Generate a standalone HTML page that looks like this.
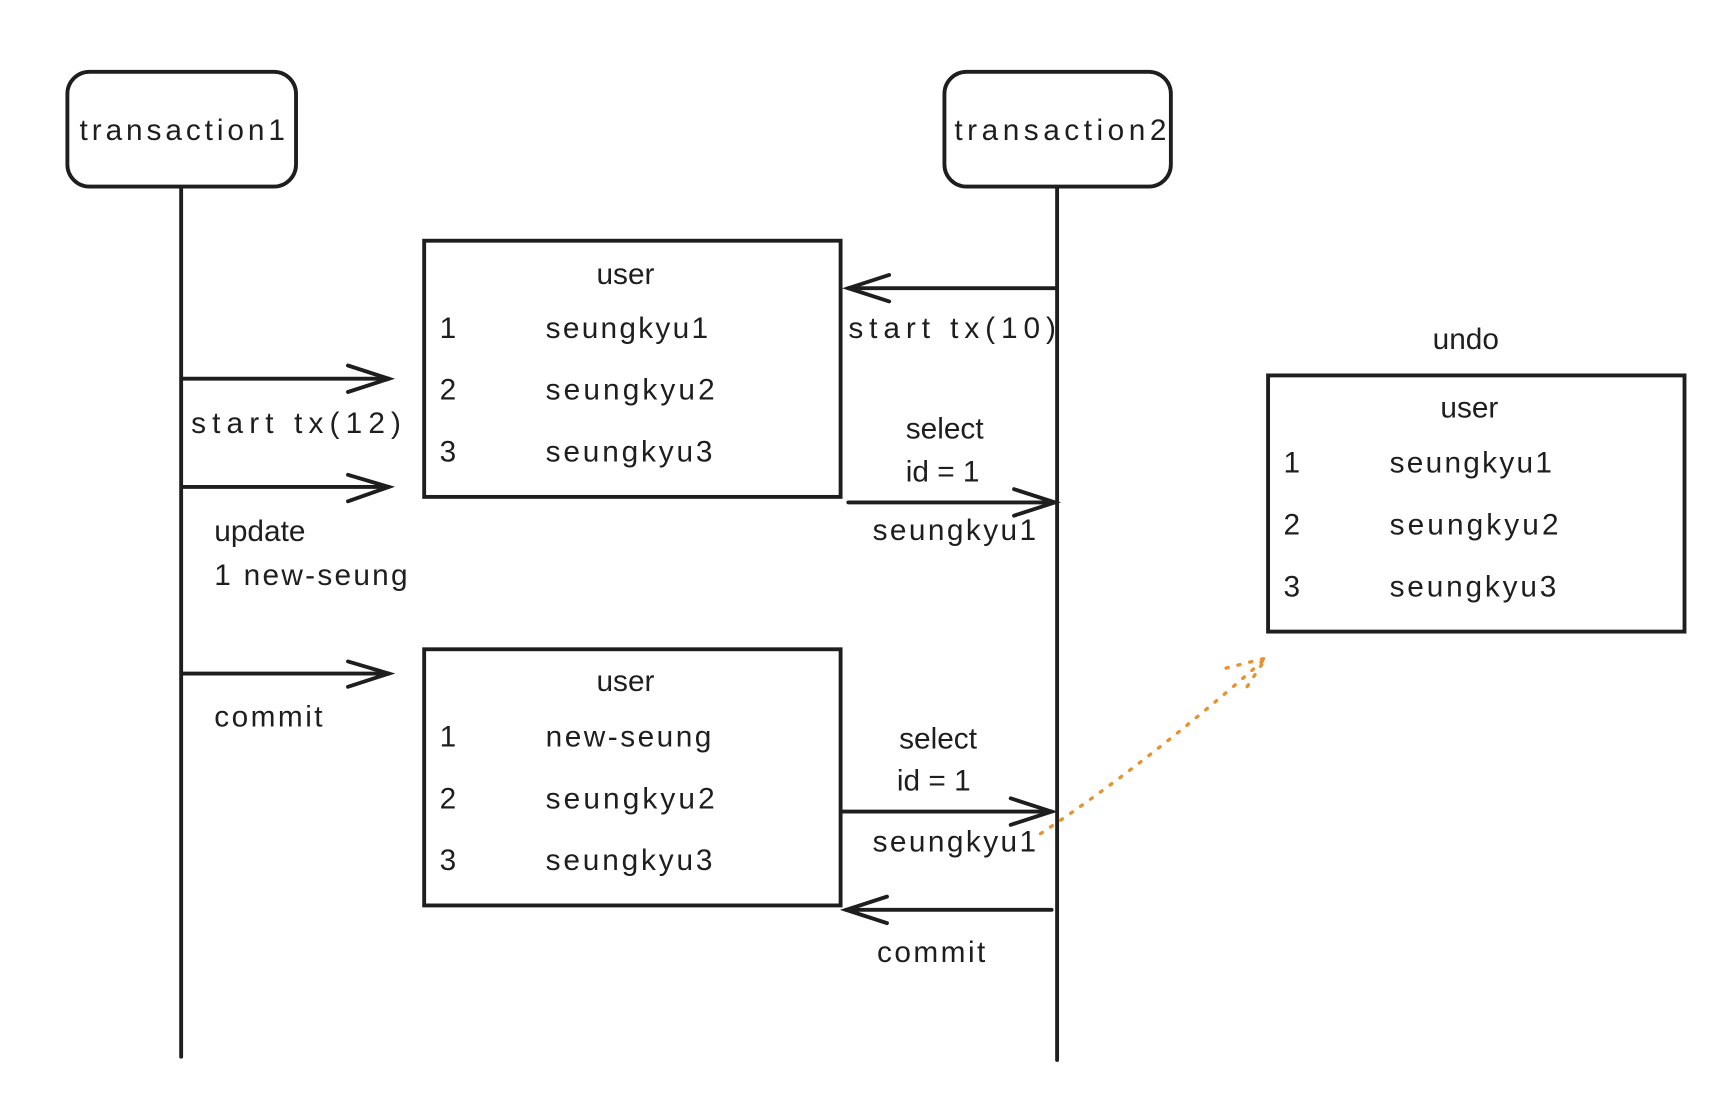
<!DOCTYPE html>
<html><head><meta charset="utf-8"><style>
html,body{margin:0;padding:0;background:#fff;}
svg{display:block;}
text{font-family:"Liberation Sans",sans-serif;font-size:27px;fill:#1e1e1e;}
</style></head><body>
<svg width="1732" height="1102" viewBox="0 0 1568 998" preserveAspectRatio="none" xmlns="http://www.w3.org/2000/svg">
<rect width="1568" height="998" fill="#fff"/>
<g fill="none" stroke="#1e1e1e" stroke-width="3.5" stroke-linecap="round">
<rect x="61" y="65" width="207" height="104" rx="20"/>
<rect x="855" y="65" width="205" height="104" rx="20"/>
<line x1="164" y1="170" x2="164" y2="957"/>
<line x1="957" y1="170" x2="957" y2="960"/>
<rect x="384" y="218" width="377" height="232"/>
<rect x="384" y="588" width="377" height="232"/>
<rect x="1148" y="340" width="377" height="232"/>
<line x1="165" y1="343" x2="352" y2="343"/><polyline points="315,331 352,343 315,355"/>
<line x1="165" y1="441" x2="352" y2="441"/><polyline points="315,430 352,441 315,454"/>
<line x1="165" y1="610" x2="352" y2="610"/><polyline points="315,599 352,610 315,622"/>
<line x1="955" y1="261" x2="768" y2="261"/><polyline points="805,249 768,261 805,273"/>
<line x1="768" y1="455" x2="955" y2="455"/><polyline points="918,443 955,455 918,467"/>
<line x1="762" y1="735" x2="952" y2="735"/><polyline points="915,723 952,735 915,747"/>
<line x1="952" y1="824" x2="766" y2="824"/><polyline points="803,812 766,824 803,836"/>
</g>
<g fill="none" stroke="#e8912d" stroke-width="3" stroke-dasharray="2,9" stroke-linecap="round">
<path d="M942,755 Q1040,690 1146,596"/>
<polyline points="1110,605 1146,596 1125,628"/>
</g>
<text x="72" y="127" textLength="186">transaction1</text>
<text x="864" y="127" textLength="192">transaction2</text>
<text x="540" y="257">user</text>
<text x="398" y="306">1</text><text x="494" y="306" textLength="147">seungkyu1</text>
<text x="398" y="362">2</text><text x="494" y="362" textLength="153">seungkyu2</text>
<text x="398" y="418">3</text><text x="494" y="418" textLength="151">seungkyu3</text>
<text x="540" y="626">user</text>
<text x="398" y="676">1</text><text x="494" y="676" textLength="150">new-seung</text>
<text x="398" y="732">2</text><text x="494" y="732" textLength="153">seungkyu2</text>
<text x="398" y="788">3</text><text x="494" y="788" textLength="151">seungkyu3</text>
<text x="1297" y="316">undo</text>
<text x="1304" y="378">user</text>
<text x="1162" y="428">1</text><text x="1258" y="428" textLength="147">seungkyu1</text>
<text x="1162" y="484">2</text><text x="1258" y="484" textLength="153">seungkyu2</text>
<text x="1162" y="540">3</text><text x="1258" y="540" textLength="151">seungkyu3</text>
<text x="173" y="392" textLength="190">start tx(12)</text>
<text x="194" y="490">update</text>
<text x="194" y="530" textLength="175">1 new-seung</text>
<text x="194" y="658" textLength="98">commit</text>
<text x="768" y="306" textLength="188">start tx(10)</text>
<text x="820" y="397">select</text>
<text x="820" y="436">id = 1</text>
<text x="790" y="489" textLength="148">seungkyu1</text>
<text x="814" y="678">select</text>
<text x="812" y="716">id = 1</text>
<text x="790" y="771" textLength="148">seungkyu1</text>
<text x="794" y="871" textLength="98">commit</text>
</svg>
</body></html>
